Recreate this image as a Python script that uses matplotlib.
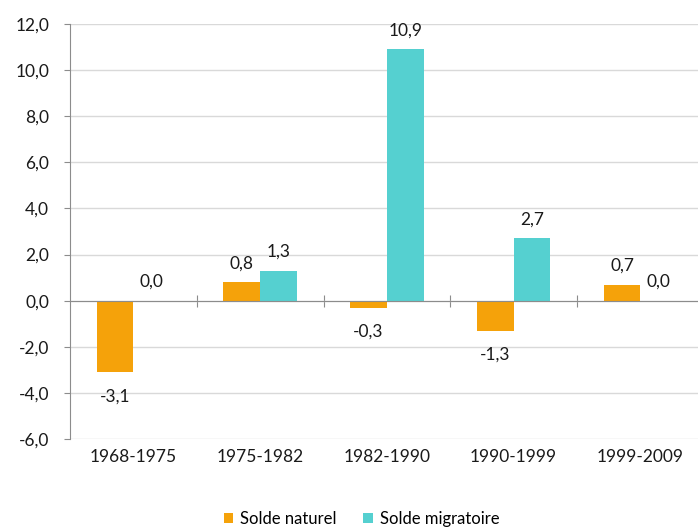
import matplotlib.pyplot as plt
import numpy as np

periodes = ['1968-1975', '1975-1982', '1982-1990', '1990-1999', '1999-2009']
solde_naturel = [-3.1, 0.8, -0.3, -1.3, 0.7]
solde_migratoire = [0.0, 1.3, 10.9, 2.7, 0.0]

orange = '#F5A20A'
turquoise = '#55D0D0'
gris_axe = '#8C8C8C'
texte = '#1a1a1a'

plt.rcParams['font.family'] = ['Lato', 'DejaVu Sans']

fig = plt.figure(figsize=(6.98, 5.31), dpi=100)
ax = fig.add_axes([0.1003, 0.1733, 0.908, 0.7815])

x = np.arange(len(periodes))
w = 0.29
b1 = ax.bar(x - w / 2, solde_naturel, w, color=orange, label='Solde naturel', zorder=3)
b2 = ax.bar(x + w / 2, solde_migratoire, w, color=turquoise, label='Solde migratoire', zorder=3)

# étiquettes de valeur au-dessus / en dessous des barres
def fmt(v):
    return '{:.1f}'.format(v).replace('.', ',')

for bars, vals in [(b1, solde_naturel), (b2, solde_migratoire)]:
    for rect, v in zip(bars, vals):
        cx = rect.get_x() + rect.get_width() / 2
        dy = 13.7 if v >= 0 else -17.3
        ax.annotate(fmt(v), (cx, v), xytext=(0, dy), textcoords='offset points',
                    ha='center', va='center', fontsize=12.5, color=texte)

ax.set_xlim(-0.5, len(periodes) - 0.5)
ax.set_ylim(-6, 12)
ax.set_yticks(np.arange(-6, 12.1, 2))
ax.set_yticklabels([fmt(v) for v in np.arange(-6, 12.1, 2)])
ax.yaxis.grid(True, color='#D9D9D9', linewidth=1, zorder=0)

for s in ['top', 'right']:
    ax.spines[s].set_visible(False)
ax.spines['left'].set_color(gris_axe)
ax.spines['bottom'].set_position(('data', 0))
ax.spines['bottom'].set_color(gris_axe)
ax.spines['bottom'].set_zorder(4)

ax.tick_params(axis='y', direction='out', length=4, color=gris_axe, labelsize=12.5,
               labelcolor=texte, pad=11)
ax.set_xticks(x[:-1] + 0.5)
ax.set_xticklabels([])
ax.tick_params(axis='x', direction='inout', length=9, color=gris_axe)

# libellés des périodes en bas du graphique
sec = ax.secondary_xaxis(0)
sec.set_xticks(x)
sec.set_xticklabels(periodes)
sec.tick_params(length=0, labelsize=12.5, labelcolor=texte, pad=7)
sec.spines['bottom'].set_visible(False)

fig.legend(handles=[b1, b2], loc='lower center', bbox_to_anchor=(0.518, -0.02),
           ncol=2, frameon=False, fontsize=12, handlelength=0.55, handleheight=0.55,
           handletextpad=0.45, columnspacing=1.6)

fig.savefig('out.png', dpi=100)
